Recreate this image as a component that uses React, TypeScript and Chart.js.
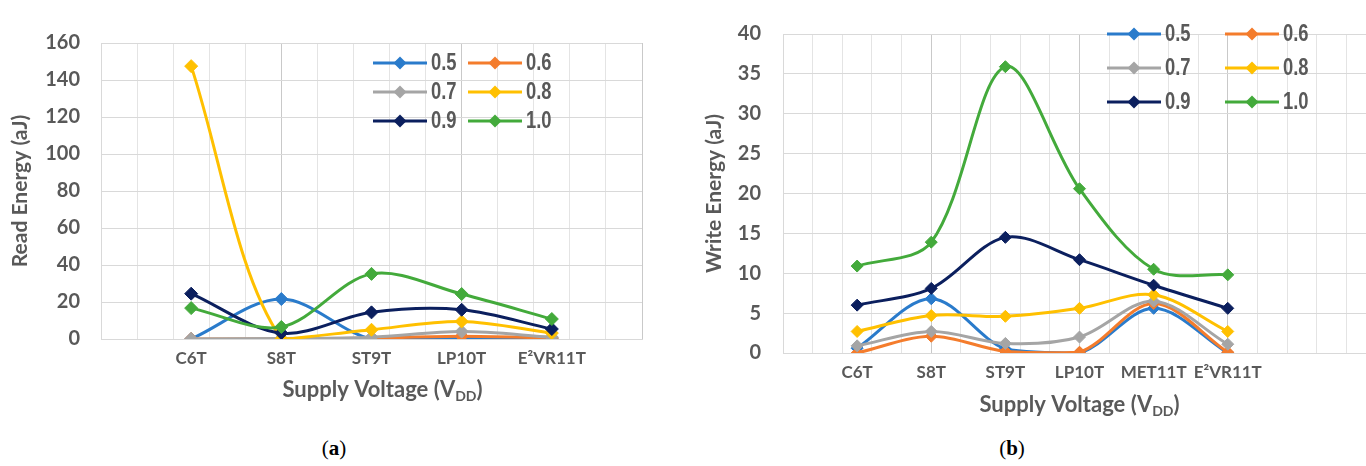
import React, { useEffect, useRef } from 'react';
import { Chart, registerables } from 'chart.js';

Chart.register(...registerables);

// ---------- data ----------
const seriesLabels = ['0.5', '0.6', '0.7', '0.8', '0.9', '1.0'];
const seriesColors = ['#2A7BCB', '#F47C2C', '#A5A5A5', '#FFC000', '#0B1F5E', '#43AA3B'];

const readCategories = ['C6T', 'S8T', 'ST9T', 'LP10T', 'E²VR11T'];
const read05 = [0, 21.6, 0, 0.5, 0];
const read06 = [0, 0, 0.5, 1.5, 0.5];
const read07 = [0, 0.3, 1, 4, 1];
const read08 = [147.5, 0, 5, 9.5, 3.2];
const read09 = [24.5, 3.2, 14.4, 15.8, 5.4];
const read10 = [16.7, 6.5, 35.2, 24.3, 10.8];
const readYTicks = [0, 20, 40, 60, 80, 100, 120, 140, 160];

const writeCategories = ['C6T', 'S8T', 'ST9T', 'LP10T', 'MET11T', 'E²VR11T'];
const write05 = [0.6, 6.8, 0.5, 0, 5.6, 0];
const write06 = [0, 2.1, 0.2, 0.1, 6.2, 0.1];
const write07 = [0.9, 2.7, 1.2, 2.0, 6.5, 1.1];
const write08 = [2.7, 4.7, 4.6, 5.6, 7.3, 2.7];
const write09 = [6.0, 8.1, 14.5, 11.7, 8.5, 5.6];
const write10 = [10.9, 13.9, 35.9, 20.6, 10.5, 9.8];
const writeYTicks = [0, 5, 10, 15, 20, 25, 30, 35, 40];

// ---------- styling ----------
const TEXT = '#595959';
const FONT = 'Lato, "Liberation Sans", sans-serif';

const overlayPlugin = {
  id: 'overlay',
  afterDraw(chart: any, _args: any, opts: any) {
    const ctx = chart.ctx as CanvasRenderingContext2D;
    const ca = chart.chartArea;
    // x axis title with subscript
    ctx.save();
    ctx.fillStyle = TEXT;
    ctx.textBaseline = 'alphabetic';
    const big = `bold 22px ${FONT}`;
    const small = `bold 14px ${FONT}`;
    const p1 = 'Supply Voltage (V';
    const p2 = 'DD';
    const p3 = ')';
    ctx.font = big;
    const w1 = ctx.measureText(p1).width;
    const w3 = ctx.measureText(p3).width;
    ctx.font = small;
    const w2 = ctx.measureText(p2).width;
    const total = w1 + w2 + w3;
    let x = (ca.left + ca.right) / 2 + opts.titleOffsetX - total / 2;
    const y = ca.bottom + opts.titleDy;
    ctx.font = big;
    ctx.fillText(p1, x, y);
    x += w1;
    ctx.font = small;
    ctx.fillText(p2, x, y + 4);
    x += w2;
    ctx.font = big;
    ctx.fillText(p3, x, y);
    ctx.restore();

    // legend (2 columns x 3 rows)
    chart.data.datasets.forEach((ds: any, i: number) => {
      const col = i % 2;
      const row = Math.floor(i / 2);
      const x0 = opts.legendCols[col];
      const yy = opts.legendRows[row];
      const len = opts.legendLen;
      ctx.save();
      ctx.strokeStyle = ds.borderColor;
      ctx.lineWidth = 3;
      ctx.beginPath();
      ctx.moveTo(x0, yy);
      ctx.lineTo(x0 + len, yy);
      ctx.stroke();
      const cx = x0 + len / 2;
      const r = 6.5;
      ctx.fillStyle = ds.borderColor;
      ctx.beginPath();
      ctx.moveTo(cx, yy - r);
      ctx.lineTo(cx + r, yy);
      ctx.lineTo(cx, yy + r);
      ctx.lineTo(cx - r, yy);
      ctx.closePath();
      ctx.fill();
      ctx.translate(x0 + len + 4, yy);
      ctx.scale(0.8, 1);
      ctx.font = 'bold 23px "Liberation Sans", Arial, sans-serif';
      ctx.fillStyle = TEXT;
      ctx.textBaseline = 'middle';
      ctx.textAlign = 'left';
      ctx.fillText(ds.label, 0, 1);
      ctx.restore();
    });
  },
};

function buildConfig(c: any) {
  const n = c.categories.length;
  const xMax = c.xMax;
  const r1 = (v: number) => Math.round(v * 10) / 10;
  return {
    type: 'line',
    data: {
      datasets: c.series.map((vals: number[], i: number) => ({
        label: seriesLabels[i],
        data: vals.map((v, j) => ({ x: j + 1, y: v })),
        borderColor: seriesColors[i],
        backgroundColor: seriesColors[i],
        pointBackgroundColor: seriesColors[i],
        pointBorderColor: seriesColors[i],
        borderWidth: 3,
        pointStyle: 'rectRot',
        pointRadius: c.pointRadius,
        pointBorderWidth: 1,
        tension: 0.33,
        fill: false,
        order: c.series.length - 1 - i,
      })),
    },
    options: {
      responsive: false,
      animation: false,
      events: [],
      layout: { padding: c.padding },
      plugins: {
        legend: { display: false },
        tooltip: { enabled: false },
        overlay: c.overlay,
      },
      scales: {
        x: {
          type: 'linear',
          min: 0,
          max: xMax,
          afterBuildTicks: (s: any) => {
            const vals: number[] = [];
            for (let k = 0; k <= Math.round(xMax / 0.4); k++) vals.push(r1(k * 0.4));
            for (let k = 1; k <= n; k++) if (!vals.includes(k)) vals.push(k);
            vals.sort((a, b) => a - b);
            s.ticks = vals.map((v) => ({ value: v }));
          },
          afterFit: (s: any) => {
            s.height = c.xAxisHeight;
          },
          grid: {
            drawTicks: false,
            lineWidth: 1,
            color: (ctx: any) => {
              const v = r1(ctx.tick ? ctx.tick.value : 0);
              if (Number.isInteger(v) && v % 2 === 1) return 'rgba(0,0,0,0)';
              if (Number.isInteger(v) && v % 2 === 0 && v > 0) return '#C9C9C9';
              return '#E4E4E4';
            },
          },
          border: { color: '#D9D9D9' },
          ticks: {
            autoSkip: false,
            maxRotation: 0,
            minRotation: 0,
            padding: 9,
            color: TEXT,
            font: { family: FONT, size: 17, weight: 'bold' },
            callback: (v: number) => {
              const rv = r1(v);
              if (Number.isInteger(rv) && rv >= 1 && rv <= n) return c.categories[rv - 1];
              return '';
            },
          },
        },
        y: {
          min: 0,
          max: c.yTicks[c.yTicks.length - 1],
          afterBuildTicks: (s: any) => {
            s.ticks = c.yTicks.map((v: number) => ({ value: v }));
          },
          afterFit: (s: any) => {
            s.width = c.yAxisWidth;
          },
          grid: { color: '#D9D9D9', drawTicks: false },
          border: { color: '#D9D9D9' },
          ticks: {
            padding: c.yTickPad,
            color: TEXT,
            font: { family: FONT, size: 20, weight: 'bold' },
          },
          title: {
            display: true,
            text: c.yTitle,
            color: TEXT,
            font: { family: FONT, size: 21, weight: 'bold' },
            padding: { top: c.yTitlePad, bottom: 0 },
          },
        },
      },
    },
    plugins: [overlayPlugin],
  };
}

function LineChart({ cfg }: { cfg: any }) {
  const ref = useRef<HTMLCanvasElement>(null);
  useEffect(() => {
    const chart = new Chart(ref.current as HTMLCanvasElement, buildConfig(cfg) as any);
    return () => chart.destroy();
  }, []);
  return (
    <canvas
      ref={ref}
      width={cfg.width}
      height={cfg.height}
      style={{ position: 'absolute', left: cfg.left, top: 0, width: cfg.width, height: cfg.height }}
    />
  );
}

const readCfg = {
  left: 0,
  width: 680,
  height: 420,
  categories: readCategories,
  series: [read05, read06, read07, read08, read09, read10],
  yTicks: readYTicks,
  xMax: 6,
  yTitle: 'Read Energy (aJ)',
  padding: { left: 0, right: 38, top: 43, bottom: 0 },
  yAxisWidth: 101,
  xAxisHeight: 81,
  yTickPad: 21,
  yTitlePad: 8,
  pointRadius: 6.5,
  overlay: {
    titleOffsetX: 11,
    titleDy: 58,
    legendCols: [373, 468],
    legendRows: [63, 92, 121],
    legendLen: 54,
  },
};

const writeCfg = {
  left: 680,
  width: 720,
  height: 430,
  categories: writeCategories,
  series: [write05, write06, write07, write08, write09, write10],
  yTicks: writeYTicks,
  xMax: 8,
  yTitle: 'Write Energy (aJ)',
  padding: { left: 0, right: 24, top: 23, bottom: 0 },
  yAxisWidth: 103,
  xAxisHeight: 77,
  yTickPad: 22,
  yTitlePad: 22,
  pointRadius: 6,
  overlay: {
    titleOffsetX: 0,
    titleDy: 59,
    legendCols: [427, 545],
    legendRows: [34, 68, 102],
    legendLen: 54,
  },
};

const captionStyle: React.CSSProperties = {
  position: 'absolute',
  top: 436,
  width: 60,
  textAlign: 'center',
  fontFamily: '"Liberation Serif", serif',
  fontSize: 21,
  color: '#000',
};

export default function App() {
  return (
    <div
      style={{
        position: 'absolute',
        left: 0,
        top: 0,
        width: 1366,
        height: 466,
        overflow: 'hidden',
        background: '#fff',
      }}
    >
      <LineChart cfg={readCfg} />
      <LineChart cfg={writeCfg} />
      <div style={{ ...captionStyle, left: 334 - 30 }}>
        (<b>a</b>)
      </div>
      <div style={{ ...captionStyle, left: 1012 - 30 }}>
        (<b>b</b>)
      </div>
    </div>
  );
}
